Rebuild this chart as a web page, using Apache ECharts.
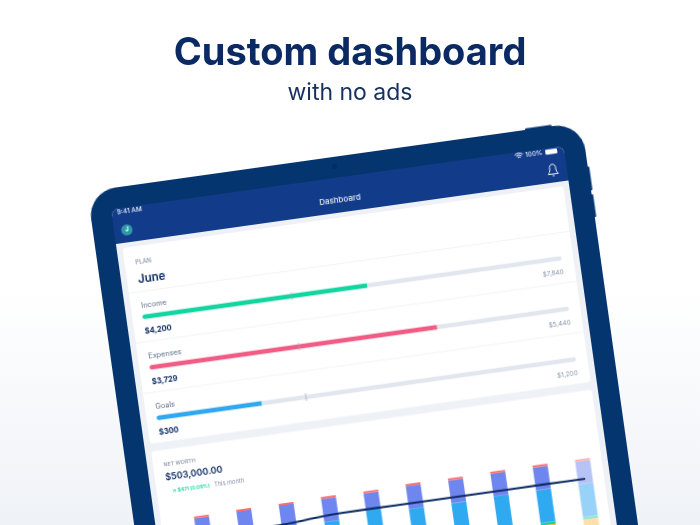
<!DOCTYPE html>
<html>
<head>
<meta charset="UTF-8">
<title>Custom dashboard</title>
<style>
	html, body { margin: 0; padding: 0; width: 700px; height: 525px; overflow: hidden; }
	body { background: linear-gradient(to bottom, #ffffff 0%, #ffffff 55%, #eff2f7 100%); position: relative; }
	#head { position: absolute; left: 0; top: 0; width: 700px; height: 130px; }
	/* the whole tablet is one chart, tilted by css because a grid cannot rotate */
	#tablet { position: absolute; left: 76.4px; top: 183.1px; width: 530px; height: 480px;
		transform-origin: 0 0; transform: rotate(-8deg); }
</style>
</head>
<body>
<div id="head"></div>
<div id="tablet"></div>
<script src="https://cdn.jsdelivr.net/npm/echarts@6/dist/echarts.min.js"></script>
<script>
// plan section
var planNames = ['Income', 'Expenses', 'Goals'];
var planValues = [4200, 3729, 300];
var planTargets = [7840, 5440, 1200];
var planPace = [0.356, 0.356, 0.356];
var planColors = ['#12d6a0', '#f25c84', '#2fa8ef'];

// net worth section, in thousands. month names sit below the visible part
var months = ['M1', 'M2', 'M3', 'M4', 'M5', 'M6', 'M7', 'M8', 'M9', 'M10'];
var capValues = [25, 25, 25, 25, 25, 25, 25, 25, 25, 25];
var periwinkleValues = [288, 288, 288, 288, 200, 288, 288, 288, 288, 288];
var blueValues = [373, 383, 383, 393, 476, 406, 402, 411, 414, 412];
var greenValues = [29, 29, 29, 29, 29, 29, 29, 29, 29, 29];
var orangeValues = [-100, -100, -100, -100, -100, -100, -100, -100, -100, -100];
var netWorth = [420, 440, 465, 500, 505, 502, 503, 504, 505, 503];

var FONT = 'Inter, "Noto Sans", sans-serif';
var OFF = 10;
var GRAY = '#8793aa';

var head = echarts.init(document.getElementById('head'));
head.setOption({
	title: [
		{ text: 'Custom dashboard', left: 'center', top: 30, textStyle: { color: '#0b2a63', fontFamily: FONT, fontWeight: 700, fontSize: 38 } },
		{ text: 'with no ads', left: 'center', top: 77, textStyle: { color: '#16305f', fontFamily: FONT, fontWeight: 400, fontSize: 23 } }
	]
});

function txt(str, x, y, size, color, weight, align) {
	return {
		type: 'text', z: 5,
		style: {
			text: str, x: x, y: y, fill: color, textAlign: align || 'left', textVerticalAlign: 'middle',
			font: (weight || 400) + ' ' + size + 'px ' + FONT
		}
	};
}
function box(x, y, w, h, r, color) {
	return { type: 'rect', z: 1, shape: { x: x, y: y, width: w, height: h, r: r }, style: { fill: color } };
}
function divider(v) {
	return { type: 'line', z: 2, shape: { x1: 27, y1: v, x2: 472, y2: v }, style: { stroke: '#f1f3f7', lineWidth: 1 } };
}
function wifiArc(r) {
	return { type: 'arc', z: 3, shape: { cx: 432.4, cy: 28, r: r, startAngle: -2.3, endAngle: -0.84, clockwise: true }, style: { fill: 'none', stroke: '#ffffff', lineWidth: 1 } };
}

var shapes = [
	box(442, -1.5, 27, 4, 1, '#05356f'),
	box(497, 45, 3.5, 24, 1, '#05356f'),
	box(497, 73, 3.5, 23, 1, '#05356f'),
	box(0, 0, 499, 500, 28, '#05356f'),
	{ type: 'circle', z: 2, shape: { cx: 248.4, cy: 9.7, r: 2.4 }, style: { fill: '#032b5c' } },
	box(21, 21, 457, 480, 8, '#eef2f7'),
	box(21, 21, 457, 35, [8, 8, 0, 0], '#123b8a'),
	box(27, 61, 445, 197.5, 3, '#ffffff'),
	box(27, 266.5, 445, 220, 3, '#ffffff'),
	divider(106.6), divider(157), divider(208),
	txt('9:41 AM', 26.5, 25.2, 6.5, '#e6ebf5', 500),
	txt('Dashboard', 249, 44, 8, '#e9edf6', 500, 'center'),
	{ type: 'circle', z: 3, shape: { cx: 33.9, cy: 43.5, r: 5.6 }, style: { fill: '#2e9aa8' } },
	txt('J', 33.9, 43.7, 6, '#ffffff', 700, 'center'),
	txt('100%', 439, 25, 6.3, '#e6ebf5', 500),
	box(459, 22.5, 12, 5, 1, '#ffffff'),
	wifiArc(2), wifiArc(4), wifiArc(6),
	{ type: 'polyline', z: 3, shape: { points: [[459, 47.5], [460.3, 45.5], [461, 43], [461, 40.5], [461.6, 38.8], [463, 37.8], [465, 37.8], [466.4, 38.8], [467, 40.5], [467, 43], [467.7, 45.5], [469, 47.5], [459, 47.5]] }, style: { fill: 'none', stroke: '#ffffff', lineWidth: 0.9 } },
	{ type: 'line', z: 3, shape: { x1: 463, y1: 49.2, x2: 465, y2: 49.2 }, style: { stroke: '#ffffff', lineWidth: 0.9 } },
	txt('PLAN', 37.8, 77, 6, GRAY, 500),
	txt('June', 38, 94.5, 11.5, '#0b2a63', 600),
	txt('NET WORTH', 37.5, 281.5, 5.3, GRAY, 500),
	txt('$503,000.00', 37.5, 294.5, 9, '#0b2a63', 600),
	txt('\u2197', 42.5, 308.5, 5, '#1fd8a4', 700),
	txt('$471 (0.09%)', 48, 308.5, 4.9, '#1fd8a4', 700),
	txt('This month', 85, 308.5, 5.7, GRAY, 400)
];

var barRows = [132, 183, 234];
var grids = [], xAxes = [], yAxes = [], series = [];

planNames.forEach(function(name, i) {
	var v = barRows[i];
	grids.push({ left: 37.3 + OFF, top: v - 5 + OFF, width: 423.2, height: 10 });
	xAxes.push({ gridIndex: i, type: 'value', min: 0, max: planTargets[i], show: false });
	yAxes.push({ gridIndex: i, type: 'category', data: [name], show: false });
	series.push({
		type: 'bar', xAxisIndex: i, yAxisIndex: i, barWidth: 4.5, barGap: '-100%', silent: true,
		data: [planTargets[i]], itemStyle: { color: '#e2e7ef', borderRadius: 2 }
	});
	series.push({
		type: 'bar', xAxisIndex: i, yAxisIndex: i, barWidth: 4.5, barGap: '-100%', silent: true,
		data: [planValues[i]], itemStyle: { color: planColors[i], borderRadius: [2, 0, 0, 2] }
	});
	series.push({
		type: 'scatter', xAxisIndex: i, yAxisIndex: i, symbol: 'rect', symbolSize: [0.8, 8], silent: true, z: 4,
		data: [[planPace[i] * planTargets[i], 0]], itemStyle: { color: '#9aa6ba' }
	});
	shapes.push(txt(name, 37.5, v - 11, 7.3, '#5f6f8c', 400));
	shapes.push(txt('$' + planValues[i].toLocaleString('en-US'), 37.5, v + 14.7, 7.5, '#0b2a63', 700));
	shapes.push(txt('$' + planTargets[i].toLocaleString('en-US'), 460.5, v + 14.5, 6.5, GRAY, 400, 'right'));
});

// bars sit on a category grid wider than the gridlines, so the gridlines get their own grid
grids.push({ left: 46.4 + OFF, top: 330 + OFF, width: 428, height: 112 });
xAxes.push({ gridIndex: 3, type: 'category', data: months, show: false });
yAxes.push({ gridIndex: 3, type: 'value', min: -600, max: 800, interval: 200, show: false });
grids.push({ left: 53 + OFF, top: 330 + OFF, width: 414, height: 112 });
xAxes.push({ gridIndex: 4, type: 'value', min: 0, max: 1, show: false });
yAxes.push({
	gridIndex: 4, type: 'value', min: -600, max: 800, interval: 200,
	axisLine: { show: true, onZero: false, lineStyle: { color: '#dde3ec' } },
	axisTick: { show: false }, axisLabel: { show: false },
	splitLine: { lineStyle: { type: 'dashed', color: '#e8ecf2' } }
});

function stackBar(values, color, faded) {
	return {
		type: 'bar', stack: 'worth', xAxisIndex: 3, yAxisIndex: 3, barWidth: 15, silent: true,
		itemStyle: { color: color },
		data: values.map(function(val, i) {
			return i === values.length - 1 ? { value: val, itemStyle: { color: faded } } : val;
		})
	};
}
series.push(stackBar(orangeValues, '#f9b84f', '#ffe0ab'));
series.push(stackBar(greenValues, '#12d6a0', '#92e8cf'));
series.push(stackBar(blueValues, '#2fa9f0', '#99d2f8'));
series.push(stackBar(periwinkleValues, '#6f86ef', '#b7c2f7'));
series.push(stackBar(capValues, '#f7706e', '#ffb0a8'));
series.push({
	type: 'line', xAxisIndex: 3, yAxisIndex: 3, symbol: 'none', smooth: 0.2, silent: true, z: 6,
	lineStyle: { color: '#0b2a63', width: 2 },
	data: netWorth
});

var tablet = echarts.init(document.getElementById('tablet'));
tablet.setOption({
	animation: false,
	graphic: [{ type: 'group', x: OFF, y: OFF, children: shapes }],
	grid: grids,
	xAxis: xAxes,
	yAxis: yAxes,
	series: series
});
</script>
</body>
</html>
